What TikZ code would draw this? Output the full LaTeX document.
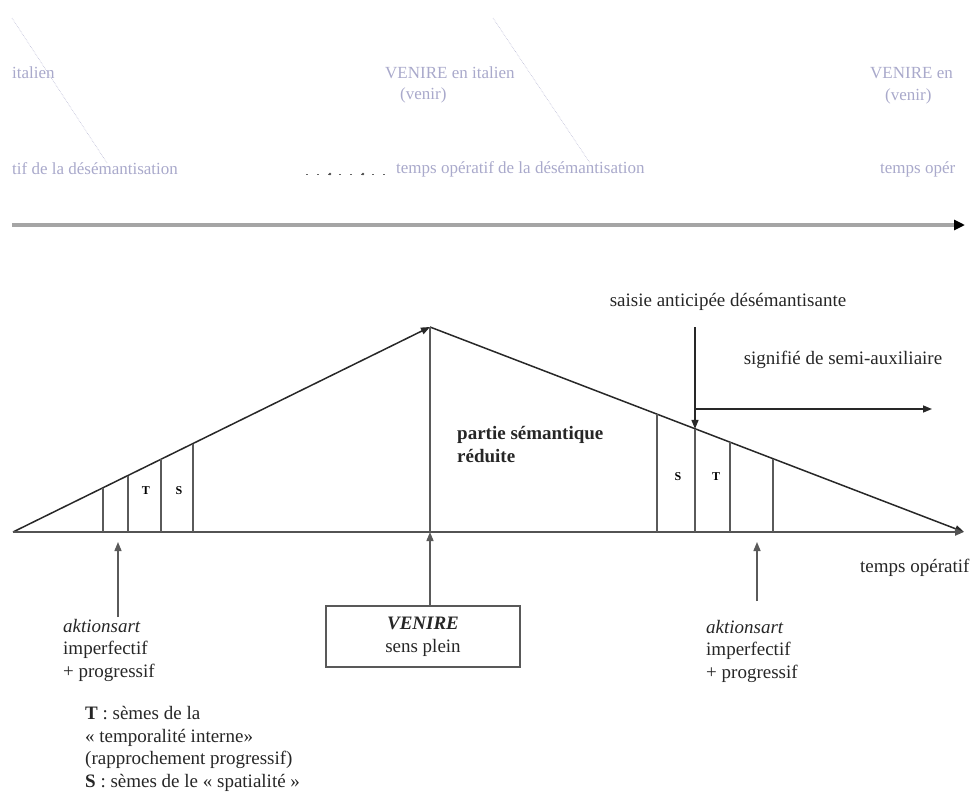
\documentclass[tikz,border=0pt]{standalone}
\usepackage{fontspec}
\setmainfont{Liberation Serif}
\usetikzlibrary{arrows.meta}
\definecolor{ghostc}{RGB}{140,140,185}
\definecolor{linec}{RGB}{40,40,40}
\definecolor{tickc}{RGB}{90,90,90}
\definecolor{graybar}{RGB}{165,165,165}
\begin{document}
\begin{tikzpicture}[x=1pt,y=-1pt,
  lbl/.style={font=\fontsize{19}{22.6}\selectfont, inner sep=0pt, align=left, text=black!85},
  ghost/.style={font=\fontsize{17}{21}\selectfont, inner sep=0pt, text=ghostc, opacity=0.75},
  ghostline/.style={draw=ghostc, densely dotted, line width=0.6pt, opacity=0.6},
  tip/.style={-{Triangle[length=9pt,width=7pt]}},
  mainline/.style={draw=linec, line width=1.5pt},
  tickline/.style={draw=tickc, line width=1.4pt},
  small/.style={font=\bfseries\fontsize{12}{14}\selectfont, inner sep=0pt}]
\useasboundingbox (0,0) rectangle (977,795);

% ---------- faint ghost band at the top ----------
\draw[ghostline] (12,18) -- (107,163);
\draw[ghostline] (493,18) -- (590,163);
\node[ghost, anchor=west] (g1) at (12,73) {italien};
\node[ghost, anchor=west] (g2) at (385,73) {VENIRE en italien};
\node[ghost, anchor=west] (g3) at (400,95) {(venir)};
\node[ghost, anchor=west] (g4) at (870,73) {VENIRE en};
\node[ghost, anchor=west] (g5) at (885,96) {(venir)};
\node[ghost, anchor=west] (g6) at (12,169) {tif de la désémantisation};
\node[ghost, anchor=west] (g7) at (396,169) {temps opératif de la désémantisation};
\node[ghost, anchor=west] (g8) at (880,169) {temps opér};
\draw[black!60, line width=0.8pt, dash pattern=on 2pt off 9pt] (306,174) -- (392,174);
\fill[black!70] (330,174) circle (1.4) (363,174) circle (1.4);

% ---------- gray arrow ----------
\coordinate (ga) at (12,225);
\coordinate (gb) at (965,225);
\draw[graybar, line width=3.5pt, -{Triangle[length=11pt,width=10pt,fill=black,color=black]}] (ga) -- (gb);

% ---------- main triangle ----------
\coordinate (O) at (13,532);
\coordinate (A) at (430,327);
\coordinate (E) at (964,532);
\coordinate (M) at (430,532);

\draw[mainline, tip] (O) -- (A);
\draw[mainline, tip] (A) -- (E);
\draw[draw=linec!80, line width=2pt, tip] (O) -- (E);
\draw[tickline] (M) -- (A);

% left ticks
\foreach \n/\x/\y in {l1/103/487.8, l2/128/475.5, l3/161/459.2, l4/193/443.5}{
  \coordinate (\n t) at (\x,\y);
  \coordinate (\n b) at (\x,532);
  \draw[tickline] (\n b) -- (\n t);
}
% right ticks
\foreach \n/\x/\y in {r1/657/414.3, r2/695/428.9, r3/730/442.4, r4/773/458.9}{
  \coordinate (\n t) at (\x,\y);
  \coordinate (\n b) at (\x,532);
  \draw[tickline] (\n b) -- (\n t);
}

\node[small] (T1) at (146,491) {T};
\node[small] (S1) at (179,491) {S};
\node[small] (S2) at (678,477) {S};
\node[small] (T2) at (716,477) {T};

% saisie arrow and semi-auxiliary arrow
\coordinate (sTop) at (695,327);
\coordinate (hA) at (695,409);
\coordinate (hB) at (932,409);
\draw[mainline, tip] (sTop) -- (r2t);
\draw[mainline, tip] (hA) -- (hB);

\node[lbl, anchor=center] (saisie) at (728,302) {saisie anticipée désémantisante};
\node[lbl, anchor=center] (signif) at (843,360) {signifié de semi-auxiliaire};
\node[lbl, font=\bfseries\fontsize{19}{22.6}\selectfont, anchor=north west] (partie) at (457,426) {partie sémantique\\réduite};
\node[lbl, anchor=west] (temps) at (860,568) {temps opératif};

% bottom box
\node[draw=black!65, line width=1.3pt, minimum width=194pt, minimum height=61pt, inner sep=0pt,
      lbl, align=center] (box) at (423,636.5) {\textbf{\textit{VENIRE}}\\sens plein};
\draw[tickline, draw=tickc, tip] (box.north -| M) -- (M);

% bottom arrows
\coordinate (la) at (118,617);
\coordinate (lb) at (118,542);
\coordinate (ra) at (757,601);
\coordinate (rb) at (757,542);
\draw[tickline, tip] (la) -- (lb);
\draw[tickline, tip] (ra) -- (rb);

\node[lbl, anchor=north west] (aktL) at (63,619) {\textit{aktionsart}\\imperfectif\\+ progressif};
\node[lbl, anchor=north west] (aktR) at (706,620) {\textit{aktionsart}\\imperfectif\\+ progressif};

\node[lbl, anchor=north west] (legend) at (85,706) {\textbf{T} : sèmes de la\\« temporalité interne»\\(rapprochement progressif)\\\textbf{S} : sèmes de le « spatialité »};
\end{tikzpicture}
\end{document}
